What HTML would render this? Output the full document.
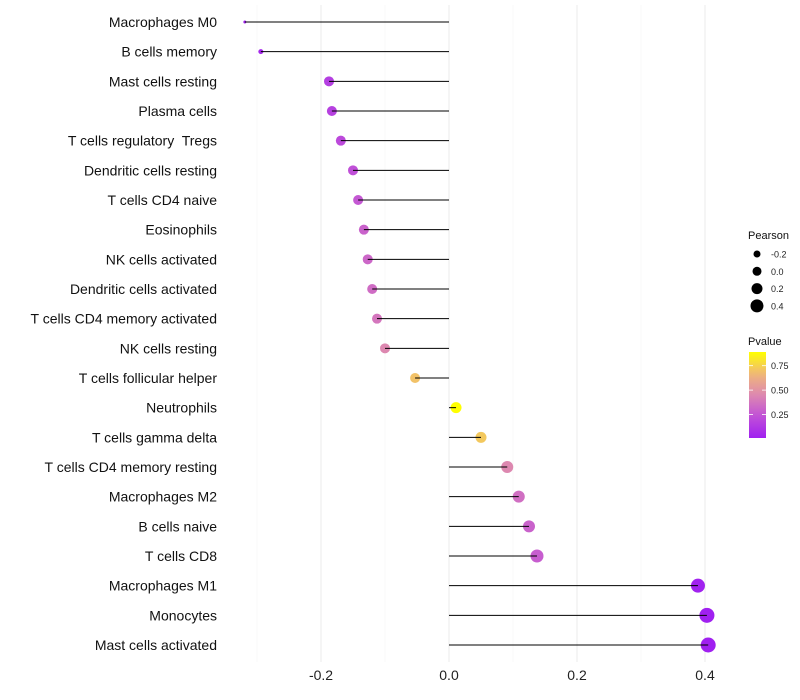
<!DOCTYPE html>
<html><head><meta charset="utf-8"><style>
body{margin:0;background:#fff;}
svg{display:block;font-family:"Liberation Sans",sans-serif;}
text{white-space:pre;}
</style></head><body>
<svg id="chart" width="800" height="700" xmlns="http://www.w3.org/2000/svg"></svg>
<script>
const categories=["Macrophages M0","B cells memory","Mast cells resting","Plasma cells","T cells regulatory  Tregs","Dendritic cells resting","T cells CD4 naive","Eosinophils","NK cells activated","Dendritic cells activated","T cells CD4 memory activated","NK cells resting","T cells follicular helper","Neutrophils","T cells gamma delta","T cells CD4 memory resting","Macrophages M2","B cells naive","T cells CD8","Macrophages M1","Monocytes","Mast cells activated"];
const pearson=[-0.319,-0.294,-0.1875,-0.183,-0.169,-0.15,-0.142,-0.133,-0.127,-0.12,-0.1125,-0.1,-0.053,0.011,0.05,0.091,0.109,0.125,0.1375,0.389,0.403,0.405];
const pvalue=[0.02,0.05,0.15,0.16,0.2,0.23,0.26,0.3,0.32,0.34,0.38,0.45,0.7,0.89,0.72,0.45,0.35,0.3,0.28,0.02,0.01,0.01];
const dotSize=[1.5,2.5,5,5,5,5,5,5,5,5,5,5,5,5.5,5.5,6,6,6,6.5,7,7.5,7.5];
const xTicks=[-0.2,0,0.2,0.4];
const xTickLabels=["-0.2","0.0","0.2","0.4"];
const xMinor=[-0.3,-0.1,0.1,0.3];
const sizeLegend=["-0.2","0.0","0.2","0.4"];
const pTicks=[0.25,0.5,0.75];

const NS="http://www.w3.org/2000/svg";
const svg=document.getElementById('chart');
const X=v=>449+v*640;
const Y=i=>22+i*(645-22)/21;
function lerp(a,b,t){return Math.round(a+(b-a)*t);}
const stops=[[0,[160,32,240]],[0.25,[192,80,216]],[0.5,[221,136,176]],[0.75,[240,184,120]],[1,[255,255,0]]];
function col(p){let t=(p-0.01)/(0.89-0.01);t=Math.max(0,Math.min(1,t));
 for(let k=1;k<stops.length;k++){if(t<=stops[k][0]){const a=stops[k-1],b=stops[k];const u=(t-a[0])/(b[0]-a[0]);
 return `rgb(${lerp(a[1][0],b[1][0],u)},${lerp(a[1][1],b[1][1],u)},${lerp(a[1][2],b[1][2],u)})`;}}return 'rgb(255,255,0)';}
function mk(tag,attrs,name,parent){const e=document.createElementNS(NS,tag);for(const k in attrs)e.setAttribute(k,attrs[k]);
 
 
 (parent||svg).appendChild(e);return e;}
xMinor.forEach(v=>mk('line',{x1:X(v),x2:X(v),y1:5,y2:662,stroke:'#f3f3f3','stroke-width':0.6},'minor-gridline'));
xTicks.forEach(v=>mk('line',{x1:X(v),x2:X(v),y1:5,y2:662,stroke:'#ebebeb','stroke-width':1},'major-gridline'));
xTicks.forEach((v,i)=>{const t=mk('text',{x:X(v),y:680,'font-size':14,'text-anchor':'middle',fill:'#222'},'x-tick-label');t.textContent=xTickLabels[i];});
categories.forEach((c,i)=>{const t=mk('text',{x:217,y:Y(i)+5,'font-size':14,'text-anchor':'end',fill:'#111'},'y-tick-label');t.textContent=c;});
categories.forEach((c,i)=>{
 mk('circle',{cx:X(pearson[i]),cy:Y(i),r:dotSize[i],fill:col(pvalue[i])},'point-'+i);
 mk('line',{x1:X(0),x2:X(pearson[i]),y1:Y(i),y2:Y(i),stroke:'#000','stroke-width':1},'segment-'+i);
});
let t=mk('text',{x:748,y:239,'font-size':11,fill:'#111'},'size-legend-title');t.textContent='Pearson';
const lr=[3.5,4.5,5.5,6.5];
sizeLegend.forEach((s,i)=>{const y=254+i*17.3;mk('circle',{cx:757,cy:y,r:lr[i],fill:'#000'},'size-legend-key');
 const tt=mk('text',{x:771,y:y+3.5,'font-size':9,fill:'#222'},'size-legend-label');tt.textContent=s;});
t=mk('text',{x:748,y:345,'font-size':11,fill:'#111'},'color-legend-title');t.textContent='Pvalue';
const defs=document.createElementNS(NS,'defs');svg.appendChild(defs);
const g=document.createElementNS(NS,'linearGradient');g.setAttribute('id','pg');g.setAttribute('x1','0');g.setAttribute('y1','1');g.setAttribute('x2','0');g.setAttribute('y2','0');defs.appendChild(g);
for(let k=0;k<=10;k++){const s=document.createElementNS(NS,'stop');s.setAttribute('offset',k/10);s.setAttribute('stop-color',col(0.01+0.88*k/10));g.appendChild(s);}
mk('rect',{x:749,y:352,width:17,height:86,fill:'url(#pg)'},'colorbar');
const PY=p=>438-(p-0.01)/(0.89-0.01)*86;
pTicks.forEach(p=>{mk('line',{x1:749,x2:753,y1:PY(p),y2:PY(p),stroke:'#fff','stroke-width':0.8},'colorbar-tick');
 mk('line',{x1:762,x2:766,y1:PY(p),y2:PY(p),stroke:'#fff','stroke-width':0.8},'colorbar-tick');
 const tt=mk('text',{x:771,y:PY(p)+3.5,'font-size':9,fill:'#222'},'colorbar-label');tt.textContent=p.toFixed(2);});
</script>
</body></html>
